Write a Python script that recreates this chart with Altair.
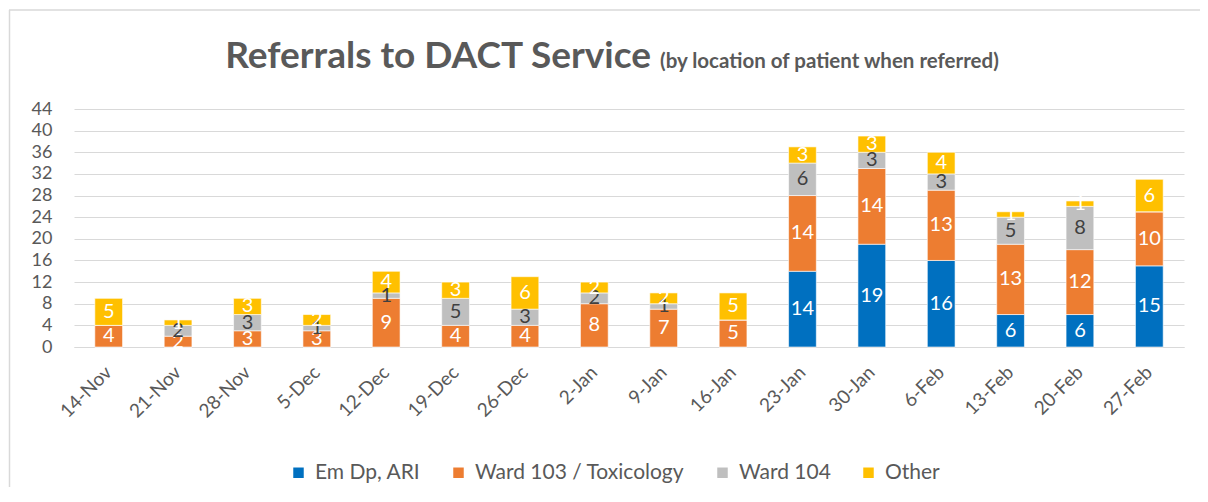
import altair as alt
import pandas as pd

dates = ["14-Nov", "21-Nov", "28-Nov", "5-Dec", "12-Dec", "19-Dec", "26-Dec", "2-Jan",
         "9-Jan", "16-Jan", "23-Jan", "30-Jan", "6-Feb", "13-Feb", "20-Feb", "27-Feb"]
series_names = ["Em Dp, ARI", "Ward 103 / Toxicology", "Ward 104", "Other"]
em_dp_ari = [0, 0, 0, 0, 0, 0, 0, 0, 0, 0, 14, 19, 16, 6, 6, 15]
ward_103 = [4, 2, 3, 3, 9, 4, 4, 8, 7, 5, 14, 14, 13, 13, 12, 10]
ward_104 = [0, 2, 3, 1, 1, 5, 3, 2, 1, 0, 6, 3, 3, 5, 8, 0]
other = [5, 1, 3, 2, 4, 3, 6, 2, 2, 5, 3, 3, 4, 1, 1, 6]
y_ticks = [0, 4, 8, 12, 16, 20, 24, 28, 32, 36, 40, 44]
colors = ["#0070C0", "#ED7D31", "#BFBFBF", "#FFC000"]

rows = []
for i, d in enumerate(dates):
    for k, (name, vals) in enumerate(zip(series_names, [em_dp_ari, ward_103, ward_104, other])):
        rows.append({"date": d, "series": name, "order": k, "value": vals[i]})
df = pd.DataFrame(rows)

FONT = "Lato"
GREY_TXT = "#595959"
GRID = "#D9D9D9"

base = alt.Chart(df).transform_stack(
    stack="value", groupby=["date"],
    sort=[alt.SortField("order", order="ascending")],
    as_=["v0", "v1"],
).transform_calculate(mid="(datum.v0 + datum.v1) / 2")

x_scale = alt.Scale(paddingInner=0.6, paddingOuter=0.3)
y_scale = alt.Scale(domain=[0, 44], nice=False)

x_axis = alt.Axis(title=None, labelAngle=-45, labelAlign="right", labelBaseline="middle",
                  labelFont=FONT, labelFontSize=19, labelColor=GREY_TXT, labelPadding=22,
                  labelOverlap=False, labelLimit=200,
                  ticks=False, domainColor=GRID, domainWidth=1.2, grid=False)
y_axis = alt.Axis(title=None, values=y_ticks, labelFont=FONT, labelFontSize=18,
                  labelColor=GREY_TXT, labelPadding=22, ticks=False, domain=False,
                  labelOverlap=False, labelBaseline="middle",
                  gridColor=GRID, gridWidth=1.2)

bars = base.mark_bar(stroke="white", strokeWidth=0.6).encode(
    x=alt.X("date:N", sort=dates, scale=x_scale, axis=x_axis),
    y=alt.Y("v0:Q", scale=y_scale, axis=y_axis),
    y2="v1:Q",
    color=alt.Color(
        "series:N", sort=series_names,
        scale=alt.Scale(domain=series_names, range=colors),
        legend=alt.Legend(
            title=None, orient="none", direction="horizontal",
            legendX=214, legendY=353,
            symbolType="square", symbolSize=110, symbolStrokeWidth=0,
            labelFont=FONT, labelFontSize=21, labelColor=GREY_TXT, labelLimit=400,
            labelOffset=6, columnPadding=27,
        ),
    ),
)

labels = base.transform_filter("datum.value > 0").mark_text(
    font=FONT, fontSize=20, baseline="middle", align="center"
).encode(
    x=alt.X("date:N", sort=dates, scale=x_scale, axis=x_axis),
    y=alt.Y("mid:Q", scale=y_scale, axis=y_axis),
    text="value:Q",
    color=alt.condition("datum.series == 'Ward 104'", alt.value("#404040"), alt.value("white")),
)

one = pd.DataFrame({"t": ["Referrals to DACT Service"], "s": ["(by location of patient when referred)"]})
title_main = alt.Chart(one).mark_text(
    font=FONT, fontSize=37, fontWeight="bold", color=GREY_TXT, align="right", baseline="alphabetic"
).encode(text="t:N", x=alt.value(577), y=alt.value(-41))
title_sub = alt.Chart(one).mark_text(
    font=FONT, fontSize=20.5, fontWeight="bold", color=GREY_TXT, align="left", baseline="alphabetic"
).encode(text="s:N", x=alt.value(586), y=alt.value(-41))

frame_left = alt.Chart(one).mark_rule(color=GRID, strokeWidth=1.5).encode(
    x=alt.value(-64.5), y=alt.value(-99), y2=alt.value(400))
frame_top = alt.Chart(one).mark_rule(color=GRID, strokeWidth=1.5).encode(
    x=alt.value(-65), x2=alt.value(1140), y=alt.value(-99))

chart = alt.layer(frame_left, frame_top, bars, labels, title_main, title_sub).properties(
    width=1110, height=238,
    autosize=alt.AutoSizeParams(type="none"),
    padding={"left": 66, "top": 101, "right": 16, "bottom": 140},
).configure_view(stroke=None)

chart.save("out.html", embed_options={"renderer": "svg", "actions": False})
